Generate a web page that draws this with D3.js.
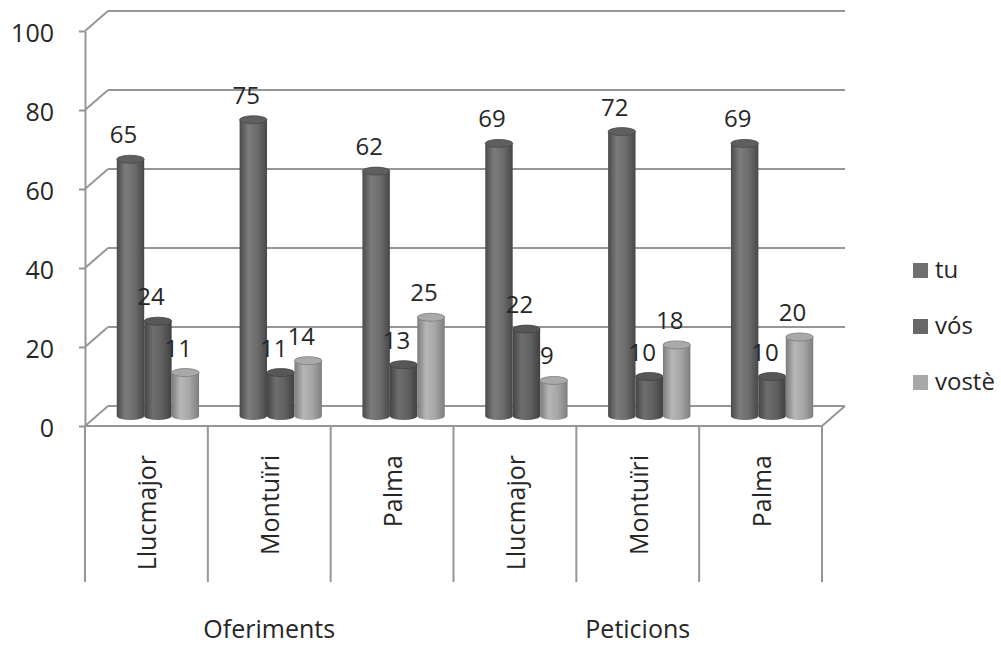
<!DOCTYPE html>
<html>
<head>
<meta charset="utf-8">
<script src="https://cdn.jsdelivr.net/npm/d3@7"></script>
<style>
  html, body { margin: 0; padding: 0; background: #fff; }
  svg text { font-family: "Open Sans", "Noto Sans", sans-serif; fill: #262626; }
</style>
</head>
<body>
<svg id="chart" width="1001" height="646"></svg>
<script>
// Data
const categories = ["Llucmajor", "Montuïri", "Palma", "Llucmajor", "Montuïri", "Palma"];
const groups = ["Oferiments", "Peticions"];
const series = ["tu", "vós", "vostè"];
const tuValues = [65, 75, 62, 69, 72, 69];
const vosValues = [24, 11, 13, 22, 10, 10];
const vosteValues = [11, 14, 25, 9, 18, 20];
const yTicks = [0, 20, 40, 60, 80, 100];

const seriesValues = [tuValues, vosValues, vosteValues];

const svg = d3.select("#chart");

// Layout of the pseudo-3D box
const plotLeft = 85, plotRight = 822, plotBottom = 426, plotTop = 31;
const depthX = 23, depthY = -20;   // offset from front plane to back wall
const barDepth = 0.5;              // bars stand half-way into the box

const keys = categories.map((c, i) => i);
const x0 = d3.scaleBand().domain(keys).range([plotLeft, plotRight]).padding(0);
const x1 = d3.scaleBand().domain(series)
  .range([x0.bandwidth() * 0.165, x0.bandwidth() * 0.835]).padding(0);
const y = d3.scaleLinear().domain([0, 100]).range([plotBottom, plotTop]);

const gridColor = "#969696";

// Shading for the cylinders
const shades = {
  "tu":    { stops: ["#4a4a4a", "#7c7c7c", "#6c6c6c", "#484848"], top: "#5f5f5f", legend: "#707070" },
  "vós":   { stops: ["#444444", "#6e6e6e", "#606060", "#414141"], top: "#575757", legend: "#676767" },
  "vostè": { stops: ["#7c7c7c", "#b6b6b6", "#a6a6a6", "#7e7e7e"], top: "#a9a9a9", legend: "#a8a8a8" }
};
const defs = svg.append("defs");
series.forEach((s, i) => {
  const g = defs.append("linearGradient").attr("id", "grad" + i)
    .attr("x1", "0%").attr("x2", "100%").attr("y1", "0%").attr("y2", "0%");
  [0, 0.32, 0.65, 1].forEach((o, k) => g.append("stop").attr("offset", o).attr("stop-color", shades[s].stops[k]));
});

// Back wall gridlines and left wall diagonals
const grid = svg.append("g").attr("stroke", gridColor).attr("stroke-width", 2).attr("fill", "none");
yTicks.forEach(t => {
  grid.append("line")
    .attr("x1", plotLeft + depthX).attr("x2", plotRight + depthX)
    .attr("y1", y(t) + depthY).attr("y2", y(t) + depthY);
  grid.append("line")
    .attr("x1", plotLeft).attr("x2", plotLeft + depthX)
    .attr("y1", y(t)).attr("y2", y(t) + depthY);
});
// Floor front edge and right edge
grid.append("line").attr("x1", plotLeft).attr("x2", plotRight).attr("y1", y(0)).attr("y2", y(0));
grid.append("line").attr("x1", plotRight).attr("x2", plotRight + depthX).attr("y1", y(0)).attr("y2", y(0) + depthY);

// Value axis
const yAxis = d3.axisLeft(y).tickValues(yTicks).tickSize(6).tickSizeOuter(0).tickPadding(25);
const ya = svg.append("g").attr("transform", `translate(${plotLeft},0)`).call(yAxis);
ya.selectAll("path, line").attr("stroke", gridColor).attr("stroke-width", 2);
ya.selectAll("text").attr("font-size", 25).attr("dy", "0.4em").style("fill", "#262626")
  .style("font-family", "'Open Sans', sans-serif");

// Category separators below the floor
const sep = svg.append("g").attr("stroke", gridColor).attr("stroke-width", 2);
d3.range(categories.length + 1).forEach(i => {
  const xx = i < categories.length ? x0(i) : x0(categories.length - 1) + x0.bandwidth();
  sep.append("line").attr("x1", xx).attr("x2", xx).attr("y1", y(0)).attr("y2", 582);
});

// Category labels (rotated)
svg.append("g").selectAll("text").data(keys).join("text")
  .attr("transform", d => `translate(${x0(d) + x0.bandwidth() / 2 + 10},455) rotate(-90)`)
  .attr("text-anchor", "end")
  .attr("font-size", 25)
  .text(d => categories[d]);

// Group labels
groups.forEach((gname, gi) => {
  const a = x0(gi * 3), b = x0(gi * 3 + 2) + x0.bandwidth();
  svg.append("text").attr("x", (a + b) / 2).attr("y", 638)
    .attr("text-anchor", "middle").attr("font-size", 25).text(gname);
});

// Cylinders
const ry = 4;
const bars = svg.append("g");
keys.forEach(ci => {
  series.forEach((s, si) => {
    const v = seriesValues[si][ci];
    const w = x1.bandwidth();
    const cx = x0(ci) + x1(s) + w / 2 + depthX * barDepth;
    const yBase = y(0) + depthY * barDepth;
    const yTop = y(v) + depthY * barDepth;
    const g = bars.append("g");
    g.append("ellipse").attr("cx", cx).attr("cy", yBase).attr("rx", w / 2).attr("ry", ry)
      .attr("fill", `url(#grad${si})`);
    g.append("rect").attr("x", cx - w / 2).attr("y", yTop).attr("width", w).attr("height", yBase - yTop)
      .attr("fill", `url(#grad${si})`);
    g.append("ellipse").attr("cx", cx).attr("cy", yTop).attr("rx", w / 2).attr("ry", ry)
      .attr("fill", shades[s].top).attr("stroke", shades[s].stops[0]).attr("stroke-width", 0.8);
  });
});

// Value labels
const labels = svg.append("g");
keys.forEach(ci => {
  series.forEach((s, si) => {
    const v = seriesValues[si][ci];
    const w = x1.bandwidth();
    const cx = x0(ci) + x1(s) + w / 2 + depthX * barDepth;
    labels.append("text")
      .attr("x", cx - 7)
      .attr("y", y(v) + depthY * barDepth - 16)
      .attr("text-anchor", "middle")
      .attr("font-size", 24)
      .text(v);
  });
});

// Legend
const legend = svg.append("g").attr("transform", "translate(913,0)");
series.forEach((s, i) => {
  const cy = 270 + i * 56;
  legend.append("rect").attr("x", 0).attr("y", cy - 7).attr("width", 15).attr("height", 15)
    .attr("fill", shades[s].legend);
  legend.append("text").attr("x", 22).attr("y", cy).attr("dy", "0.35em")
    .attr("font-size", 24).text(s);
});
</script>
</body>
</html>
